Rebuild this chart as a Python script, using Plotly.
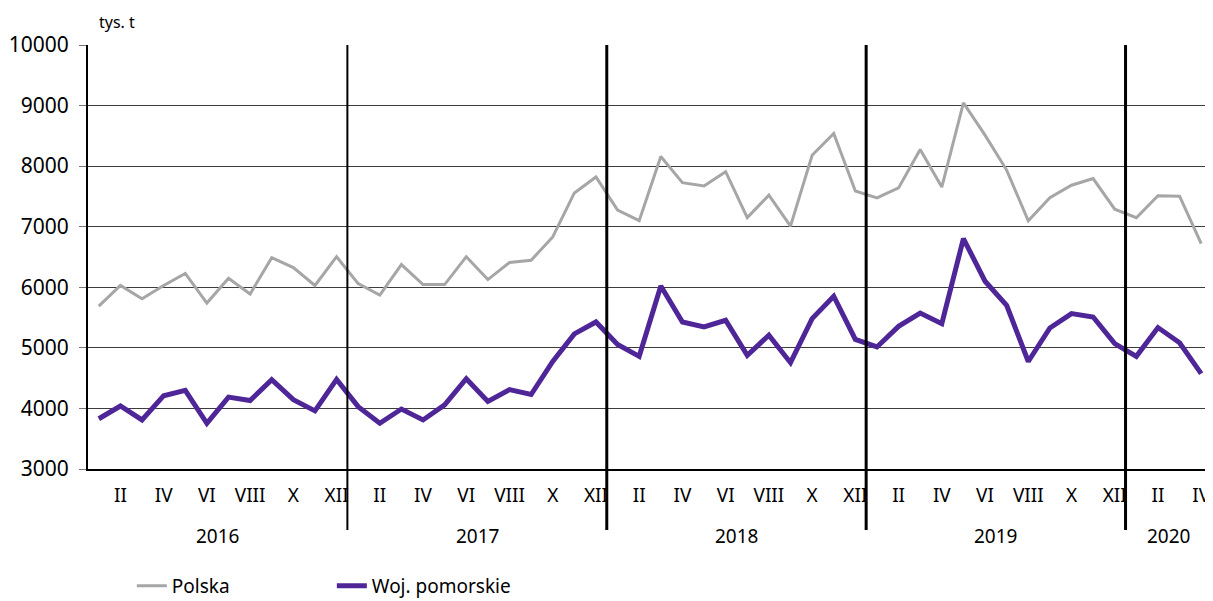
import plotly.graph_objects as go

years = [2016, 2017, 2018, 2019, 2020]
roman = ["I", "II", "III", "IV", "V", "VI", "VII", "VIII", "IX", "X", "XI", "XII"]
months = [f"{y}-{m:02d}" for y in years for m in range(1, 13)][:52]

polska = [
    5690, 6030, 5810, 6030, 6230, 5740, 6150, 5890, 6490, 6325, 6030, 6505,
    6060, 5870, 6375, 6045, 6045, 6505, 6127, 6408, 6446, 6830, 7558, 7822,
    7275, 7100, 8160, 7727, 7672, 7908, 7150, 7520, 7010, 8180, 8540, 7590,
    7475, 7640, 8275, 7655, 9045, 8512, 7935, 7097, 7480, 7685, 7795, 7290,
    7148, 7510, 7505, 6720,
]
pomorskie = [
    3830, 4040, 3810, 4210, 4300, 3755, 4187, 4130, 4475, 4145, 3960, 4480,
    4030, 3755, 3990, 3810, 4060, 4490, 4115, 4310, 4230, 4775, 5230, 5427,
    5055, 4860, 6022, 5427, 5345, 5455, 4878, 5208, 4755, 5483, 5852, 5140,
    5015, 5355, 5575, 5400, 6805, 6100, 5703, 4775, 5328, 5565, 5510, 5070,
    4860, 5335, 5085, 4575,
]

tick_vals = [m for m in months if int(m[5:]) % 2 == 0]
tick_text = [roman[int(m[5:]) - 1] for m in tick_vals]

FONT = "Noto Sans"

fig = go.Figure()
fig.add_trace(go.Scatter(x=months, y=polska, mode="lines", name="Polska",
                         line=dict(color="#A6A6A6", width=3)))
fig.add_trace(go.Scatter(x=months, y=pomorskie, mode="lines", name="Woj. pomorskie",
                         line=dict(color="#4F2698", width=5)))

# year separators and year labels
for i, y in enumerate(years):
    idx = [k for k, m in enumerate(months) if m.startswith(str(y))]
    center = (idx[0] + idx[-1]) / 2
    fig.add_annotation(x=center, xref="x", y=-0.158, yref="paper", text=str(y),
                       showarrow=False, font=dict(size=19, color="#000", family=FONT),
                       yanchor="middle")
    if i > 0:
        fig.add_shape(type="line", xref="x", yref="paper", x0=idx[0] - 0.5, x1=idx[0] - 0.5,
                      y0=-0.144, y1=1, line=dict(color="#000", width=2 if i == 1 else 3))

fig.add_annotation(x=0.008, xref="paper", y=1.054, yref="paper", text="tys. t",
                   showarrow=False, xanchor="left", yanchor="middle",
                   font=dict(size=16, color="#000", family=FONT))

fig.update_layout(
    width=1205, height=593,
    margin=dict(l=80, r=1, t=37, b=132, autoexpand=False),
    paper_bgcolor="white", plot_bgcolor="white",
    font=dict(family=FONT, color="#000", size=19),
    showlegend=True,
    legend=dict(orientation="h", x=0.039, xanchor="left", y=-0.276, yanchor="middle",
                font=dict(size=19, family=FONT), entrywidth=155, entrywidthmode="pixels",
                bgcolor="rgba(0,0,0,0)"),
    xaxis=dict(type="category", range=[-0.5, 51.5], tickmode="array",
               tickvals=tick_vals, ticktext=tick_text, ticks="", showgrid=False,
               showline=True, linecolor="#000", linewidth=2, mirror=False,
               tickfont=dict(size=19), ticklabelstandoff=8, automargin=False),
    yaxis=dict(range=[3000, 10000], dtick=1000, tick0=3000, tickformat="d",
               showgrid=True, gridcolor="#3c3c3c", gridwidth=1, showline=True,
               linecolor="#000", linewidth=2, mirror=True, ticks="outside", ticklen=7,
               tickcolor="#777", tickfont=dict(size=21), ticklabelstandoff=6,
               zeroline=False, automargin=False),
)

fig.write_html("out.html")
